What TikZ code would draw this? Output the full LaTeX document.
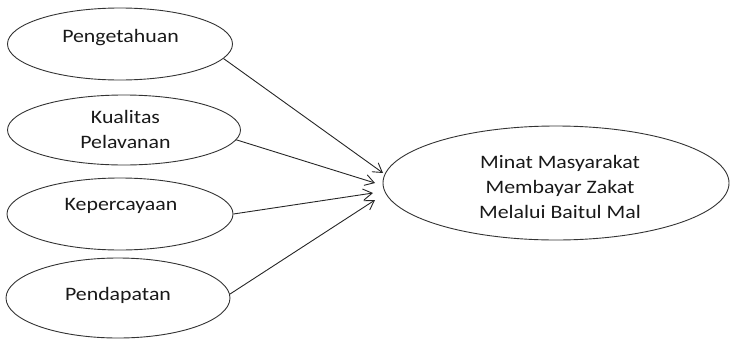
\documentclass[tikz,border=0pt]{standalone}
\usepackage{fontspec}
\setmainfont{Carlito}[FakeStretch=1.15]
\usetikzlibrary{shapes.geometric,arrows.meta}
\begin{document}
\begin{tikzpicture}[x=1pt,y=-1pt,
  oval/.style={draw=black!80,line width=0.9pt,ellipse,inner sep=0pt},
  lbl/.style={anchor=base,align=center,inner sep=0pt,font=\fontsize{19}{25}\selectfont,text=black!90},
  arr/.style={draw=black!85,line width=0.9pt,-{Straight Barb[length=9pt,width=11pt,line width=0.9pt]}}]
\useasboundingbox (0,0) rectangle (730,343);
\node[oval,minimum width=225pt,minimum height=72pt] (e1) at (120,44) {};
\node[oval,minimum width=233pt,minimum height=70pt] (e2) at (124,130) {};
\node[oval,minimum width=226pt,minimum height=72pt] (e3) at (120,214) {};
\node[oval,minimum width=224pt,minimum height=80pt] (e4) at (118,298) {};
\node[oval,minimum width=346pt,minimum height=114pt] (t) at (556,183) {};
\node[lbl] (l1) at (120.5,42) {Pengetahuan};
\node[lbl] (l2) at (125.5,148) {Kualitas\\Pelavanan};
\node[lbl] (l3) at (121,210) {Kepercayaan};
\node[lbl] (l4) at (118,300) {Pendapatan};
\node[lbl] (lt) at (560,218) {Minat Masyarakat\\Membayar Zakat\\Melalui Baitul Mal};
\coordinate (p1) at (383,173);
\coordinate (p2) at (375,183);
\coordinate (p3) at (373,193);
\coordinate (p4) at (375,200);
\draw[arr] (e1.-8) -- (p1);
\draw[arr] (e2.-5) -- (p2);
\draw[arr] (e3.0) -- (p3);
\draw[arr] (e4.2) -- (p4);
\end{tikzpicture}
\end{document}
